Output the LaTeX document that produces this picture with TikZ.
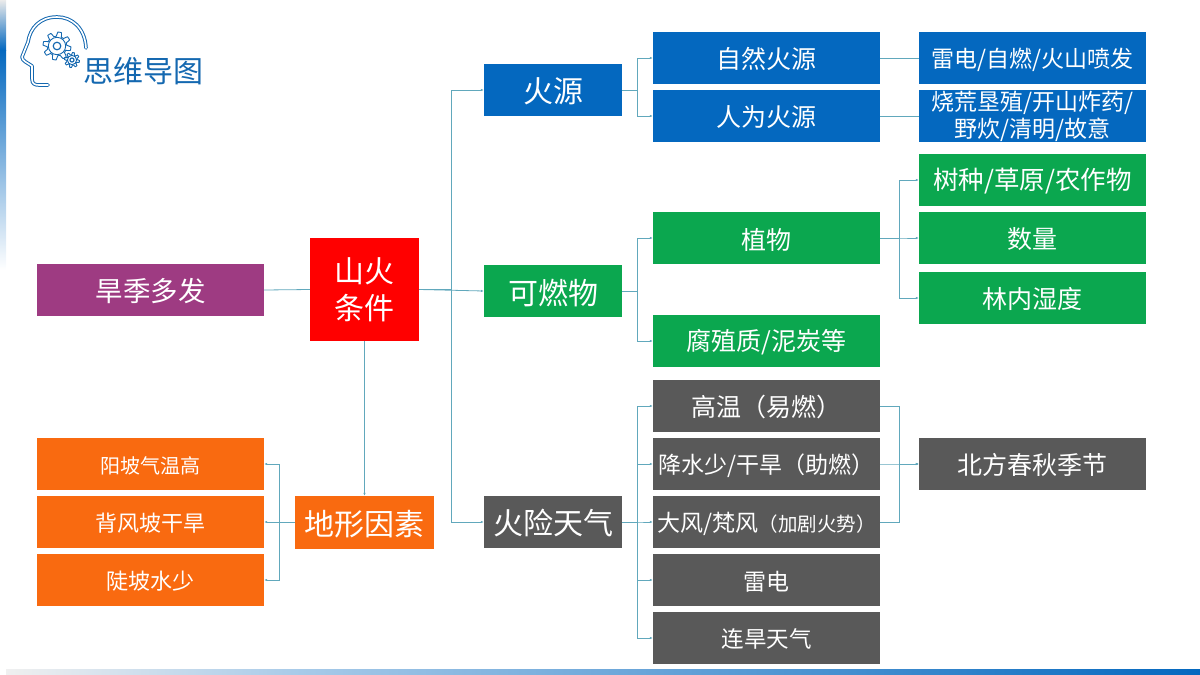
\documentclass[tikz,border=0pt]{standalone}
\usepackage{fontspec}
\setmainfont{Noto Sans CJK SC}
\usetikzlibrary{arrows.meta}
\definecolor{myblue}{rgb}{0.016,0.408,0.749}
\definecolor{mygreen}{rgb}{0.043,0.655,0.310}
\definecolor{mygray}{gray}{0.35}
\definecolor{myorange}{rgb}{0.976,0.416,0.063}
\definecolor{mypurple}{rgb}{0.620,0.231,0.510}
\definecolor{myline}{rgb}{0.380,0.659,0.737}
\definecolor{mytitle}{rgb}{0.078,0.408,0.690}
\tikzset{
    box/.style={minimum height=52pt, inner sep=0pt, text=white, align=center, font=\fontsize{25pt}{27pt}\selectfont, execute at begin node={\rule{0pt}{\dimexpr0.88em+2pt\relax}}},
    wide/.style={box, minimum width=227pt},
    main/.style={box, minimum width=138pt, font=\fontsize{30pt}{37pt}\selectfont},
    link/.style={myline, line width=0.8pt, -{Latex[length=3pt, width=2.5pt]}},
    plain/.style={myline, line width=0.8pt},
    logo/.style={mytitle, line width=1pt, double=white, double distance=1.6pt, line join=round}
}

\begin{document}
\begin{tikzpicture}[x=1pt, y=-1pt]
    \useasboundingbox (0,0) rectangle (1200,675);

    % strips at the page edge
    \shade[top color=black!8, bottom color=myblue] (0,0) rectangle (6,50);
    \shade[top color=myblue, bottom color=white] (0,50) rectangle (6,270);
    \shade[left color=black!6, right color=myblue!35] (6,669) rectangle (300,675);
    \shade[left color=myblue!35, right color=myblue] (300,669) rectangle (1200,675);

    % logo
    \draw[logo, line cap=round] (86,48) .. controls (85,28) and (72,17) .. (57,17) .. controls (40,17) and (30,28) .. (28,42) -- (22,57) .. controls (22,61) and (28,63) .. (32,66) -- (32,79) .. controls (32,84) and (35,85) .. (39,85) -- (48,85);
    \foreach \gx/\gy/\gr in {57/46/14, 72/60/7.5} {
        \draw[mytitle, line width=0.9pt, line join=round] plot[domain=0:360, samples=97] ({\gx+cos(\x)*\gr*(0.85+0.15*sign(sin(8*\x)))}, {\gy+sin(\x)*\gr*(0.85+0.15*sign(sin(8*\x)))}) -- cycle;
        \draw[mytitle, line width=0.9pt] (\gx,\gy) circle [radius=\gr*0.62];
        \draw[mytitle, line width=1.2pt] (\gx,\gy) circle [radius=\gr*0.27];
    }
    \node[text=mytitle, font=\fontsize{30pt}{30pt}\selectfont] (title) at (143.5,71) {思维导图};

    % centre and left
    \node[box, fill=red, minimum width=109pt, minimum height=103pt, font=\fontsize{30pt}{37pt}\selectfont] (fire) at (364.5,289.5) {山火\\条件};
    \node[wide, fill=mypurple, font=\fontsize{27.5pt}{30pt}\selectfont] (dry) at (150.5,290) {旱季多发};
    \node[main, fill=myorange, minimum width=139pt, minimum height=53pt] (terrain) at (364.5,522.5) {地形因素};
    \node[wide, fill=myorange, font=\fontsize{20pt}{24pt}\selectfont] (sunny) at (150.5,464) {阳坡气温高};
    \node[wide, fill=myorange, font=\fontsize{22pt}{24pt}\selectfont] (lee) at (150.5,522) {背风坡干旱};
    \node[wide, fill=myorange, font=\fontsize{22pt}{24pt}\selectfont] (steep) at (150.5,580) {陡坡水少};

    % first level
    \node[main, fill=myblue] (source) at (553,90) {火源};
    \node[main, fill=mygreen] (fuel) at (553,291) {可燃物};
    \node[main, fill=mygray] (weather) at (553,522) {火险天气};

    % second level
    \node[wide, fill=myblue] (natural) at (766.5,58) {自然火源};
    \node[wide, fill=myblue] (human) at (766.5,116) {人为火源};
    \node[wide, fill=mygreen] (plant) at (766.5,238) {植物};
    \node[wide, fill=mygreen] (humus) at (766.5,341) {腐殖质/泥炭等};
    \node[wide, fill=mygray, font=\fontsize{25pt}{27pt}\selectfont] (hot) at (766.5,406) {高温（易燃）};
    \node[wide, fill=mygray, font=\fontsize{23pt}{27pt}\selectfont] (rain) at (766.5,464) {降水少/干旱（助燃）};
    \node[wide, fill=mygray, font=\fontsize{23pt}{27pt}\selectfont] (wind) at (766.5,522) {大风/梵风{\fontsize{19.5pt}{27pt}\selectfont（加剧火势）}};
    \node[wide, fill=mygray, font=\fontsize{23pt}{27pt}\selectfont] (thunder) at (766.5,580) {雷电};
    \node[wide, fill=mygray, font=\fontsize{22.5pt}{27pt}\selectfont] (drought) at (766.5,638) {连旱天气};

    % third level
    \node[wide, fill=myblue, font=\fontsize{23pt}{27pt}\selectfont] (causeA) at (1032.5,58) {雷电/自燃/火山喷发};
    \node[wide, fill=myblue, font=\fontsize{23pt}{27pt}\selectfont] (causeB) at (1032.5,116) {烧荒垦殖/开山炸药/\\野炊/清明/故意};
    \node[wide, fill=mygreen, font=\fontsize{25.5pt}{27pt}\selectfont] (species) at (1032.5,180) {树种/草原/农作物};
    \node[wide, fill=mygreen] (amount) at (1032.5,238) {数量};
    \node[wide, fill=mygreen] (humid) at (1032.5,298) {林内湿度};
    \node[wide, fill=mygray] (season) at (1032.5,464) {北方春秋季节};

    % fork columns
    \coordinate (forkA) at (451,0);
    \coordinate (forkB) at (637,0);
    \coordinate (forkC) at (899,0);
    \coordinate (forkD) at (279,0);

    % connectors
    \draw[plain] (dry.east) -- (fire.west);
    \draw[link] (fire.south) -- (terrain.north);
    \draw[link] (fire.east) -- (fuel.west);
    \foreach \to in {source, weather}
        \draw[link] (fire.east) -- (forkA |- fire.east) |- (\to.west);
    \foreach \to in {sunny, lee, steep}
        \draw[link] (terrain.west) -- (forkD |- terrain.west) |- (\to.east);
    \foreach \to in {natural, human}
        \draw[link] (source.east) -- (forkB |- source.east) |- (\to.west);
    \foreach \to in {plant, humus}
        \draw[link] (fuel.east) -- (forkB |- fuel.east) |- (\to.west);
    \foreach \to in {hot, rain, wind, thunder, drought}
        \draw[link] (weather.east) -- (forkB |- weather.east) |- (\to.west);
    \foreach \to in {species, amount, humid}
        \draw[link] (plant.east) -- (forkC |- plant.east) |- (\to.west);
    \foreach \from in {hot, rain, wind}
        \draw[link] (\from.east) -- (forkC |- \from.east) |- (season.west);
    \draw[plain] (natural.east) -- (causeA.west);
    \draw[plain] (human.east) -- (causeB.west);
\end{tikzpicture}
\end{document}
